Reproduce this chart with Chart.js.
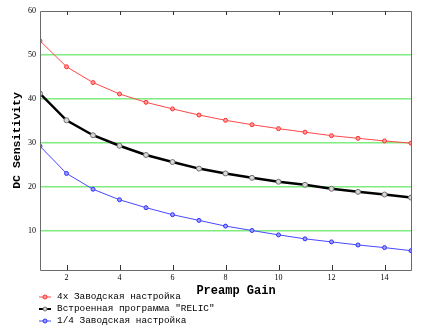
<!DOCTYPE html>
<html>
<head>
<meta charset="utf-8">
<script src="https://cdn.jsdelivr.net/npm/chart.js@4.4.0/dist/chart.umd.min.js"></script>
<style>
  html, body { margin: 0; padding: 0; background: #fff; }
  #wrap { width: 425px; height: 329px; }
</style>
</head>
<body>
<div id="wrap"><canvas id="c"></canvas></div>
<script>
// данные графика
const gain = [1, 2, 3, 4, 5, 6, 7, 8, 9, 10, 11, 12, 13, 14, 15];
const factory4x = [53.2, 47.3, 43.7, 41.1, 39.2, 37.7, 36.3, 35.1, 34.1, 33.2, 32.4, 31.6, 31.0, 30.4, 29.9];
const relic = [41.2, 35.1, 31.7, 29.3, 27.2, 25.6, 24.1, 23.0, 22.0, 21.1, 20.4, 19.5, 18.8, 18.2, 17.5];
const factory14 = [29.2, 23.0, 19.4, 17.0, 15.2, 13.6, 12.3, 11.0, 10.0, 9.0, 8.1, 7.4, 6.7, 6.1, 5.4];
const seriesNames = ['4x Заводская настройка', 'Встроенная программа "RELIC"', '1/4 Заводская настройка'];
const xTicks = [2, 4, 6, 8, 10, 12, 14];
const yTicks = [10, 20, 30, 40, 50, 60];

const toXY = (arr) => arr.map((v, i) => ({ x: gain[i], y: v }));

// рамка, внутренние засечки, подпись оси X и легенда
const framePlugin = {
    id: 'frame',
    afterDraw(chart) {
        const ctx = chart.ctx;
        const a = chart.chartArea;
        const xs = chart.scales.x;
        ctx.save();
        ctx.lineWidth = 1;
        ctx.strokeStyle = '#6a6a6a';
        ctx.beginPath();
        ctx.moveTo(a.left + 0.5, a.top + 0.5);
        ctx.lineTo(a.right + 0.5, a.top + 0.5);
        ctx.lineTo(a.right + 0.5, a.bottom + 0.5);
        ctx.lineTo(a.left + 0.5, a.bottom + 0.5);
        ctx.closePath();
        ctx.stroke();
        // засечки
        ctx.strokeStyle = '#333';
        xTicks.forEach(t => {
            const px = Math.round(xs.getPixelForValue(t)) + 0.5;
            ctx.beginPath();
            ctx.moveTo(px, a.bottom);
            ctx.lineTo(px, a.bottom - 5);
            ctx.moveTo(px, a.top);
            ctx.lineTo(px, a.top + 4);
            ctx.stroke();
        });
        // подпись оси X
        ctx.fillStyle = '#000';
        ctx.font = 'bold 12px "Liberation Mono", "DejaVu Sans Mono", monospace';
        ctx.textAlign = 'center';
        ctx.textBaseline = 'middle';
        ctx.fillText('Preamp Gain', 236, 291);
        // легенда
        ctx.font = '9.4px "Liberation Mono", "DejaVu Sans Mono", monospace';
        ctx.textAlign = 'left';
        chart.data.datasets.forEach((ds, i) => {
            const y = 297 + i * 12;
            ctx.strokeStyle = ds.borderColor;
            ctx.lineWidth = i === 1 ? 2 : 1;
            ctx.beginPath();
            ctx.moveTo(39, y);
            ctx.lineTo(51, y);
            ctx.stroke();
            ctx.lineWidth = 1;
            ctx.strokeStyle = ds.pointBorderColor;
            ctx.fillStyle = ds.pointBackgroundColor;
            ctx.beginPath();
            ctx.arc(45, y, 2, 0, Math.PI * 2);
            ctx.fill();
            ctx.stroke();
            ctx.fillStyle = '#000';
            ctx.fillText(ds.label, 57, y);
        });
        ctx.restore();
    }
};

new Chart(document.getElementById('c'), {
    type: 'line',
    data: {
        datasets: [
            {
                label: seriesNames[0],
                data: toXY(factory4x),
                borderColor: '#ff4848',
                borderWidth: 1,
                pointRadius: 2,
                pointBorderColor: '#ff3030',
                pointBackgroundColor: '#ff9a9a',
                pointBorderWidth: 1
            },
            {
                label: seriesNames[1],
                data: toXY(relic),
                borderColor: '#000000',
                borderWidth: 2.5,
                pointRadius: 2.5,
                pointBorderColor: '#707070',
                pointBackgroundColor: '#d8d8d8',
                pointBorderWidth: 1
            },
            {
                label: seriesNames[2],
                data: toXY(factory14),
                borderColor: '#4848ff',
                borderWidth: 1,
                pointRadius: 2,
                pointBorderColor: '#3030ff',
                pointBackgroundColor: '#9a9aff',
                pointBorderWidth: 1
            }
        ]
    },
    options: {
        responsive: true,
        maintainAspectRatio: false,
        animation: false,
        events: [],
        layout: { padding: { left: 0, right: 14, top: 11, bottom: 0 } },
        plugins: {
            legend: { display: false },
            tooltip: { enabled: false }
        },
        scales: {
            x: {
                type: 'linear',
                min: 1,
                max: 15,
                afterBuildTicks: (s) => { s.ticks = xTicks.map(v => ({ value: v })); },
                afterFit: (s) => { s.height = 59; },
                grid: { display: false, drawTicks: false },
                border: { display: false },
                ticks: {
                    color: '#000',
                    padding: 3,
                    font: { family: '"Liberation Serif", "DejaVu Serif", serif', size: 8 }
                }
            },
            y: {
                type: 'linear',
                min: 1,
                max: 60,
                afterBuildTicks: (s) => { s.ticks = yTicks.map(v => ({ value: v })); },
                afterFit: (s) => { s.width = 40; },
                grid: {
                    drawTicks: false,
                    lineWidth: 1.5,
                    color: (c) => (c.tick && c.tick.value === 60) ? 'rgba(0,0,0,0)' : '#80ec80'
                },
                border: { display: false },
                ticks: {
                    color: '#000',
                    padding: 4,
                    font: { family: '"Liberation Serif", "DejaVu Serif", serif', size: 8 }
                }
                ,
                title: {
                    display: true,
                    text: 'DC Sensitivity',
                    color: '#000',
                    padding: { top: 10, bottom: 4 },
                    font: { family: '"Liberation Mono", "DejaVu Sans Mono", monospace', size: 11.5, weight: 'bold' }
                }
            }
        }
    },
    plugins: [framePlugin]
});
</script>
</body>
</html>
